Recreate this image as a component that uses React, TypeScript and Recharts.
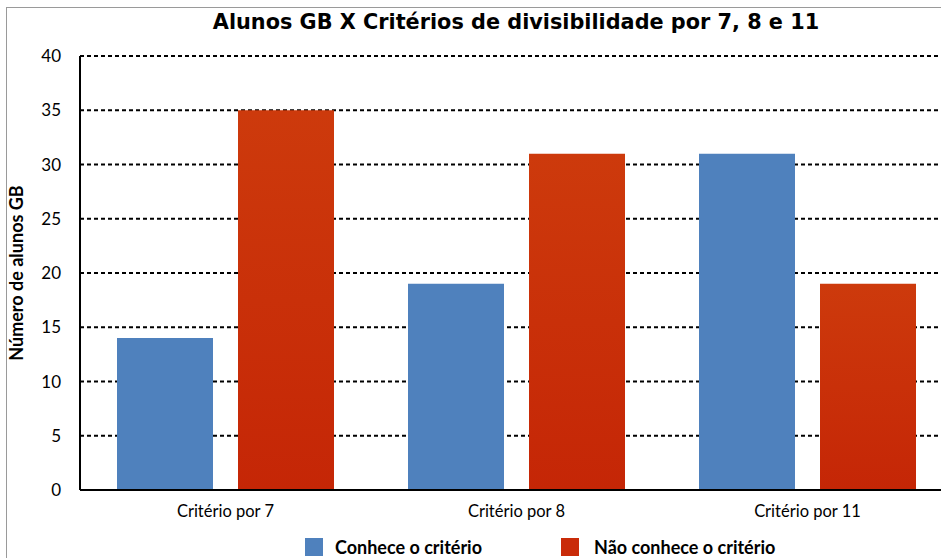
import React from 'react';
import { BarChart, Bar, XAxis, YAxis, CartesianGrid, Label } from 'recharts';

const categories = ['Critério por 7', 'Critério por 8', 'Critério por 11'];
const conhece = [14, 19, 31];
const naoConhece = [35, 31, 19];
const yTicks = [0, 5, 10, 15, 20, 25, 30, 35, 40];
const seriesNames = ['Conhece o critério', 'Não conhece o critério'];
const title = 'Alunos GB X Critérios de divisibilidade por 7, 8 e 11';
const yLabel = 'Número de alunos GB';

const data = categories.map((c, i) => ({ name: c, conhece: conhece[i], nao: naoConhece[i] }));

const BLUE = '#4F81BD';
const RED = '#C92B09';
const FONT = 'Lato, "Open Sans", sans-serif';

export default function App() {
  return (
    <div style={{ position: 'absolute', left: 0, top: 0, width: 941, height: 558, overflow: 'hidden', background: '#fff' }}>
      <div style={{ position: 'absolute', left: 6, top: 7, width: 1000, height: 600, border: '1px solid #9a9a9a', boxSizing: 'border-box' }} />
      <div style={{ position: 'absolute', left: 516, top: 10, transform: 'translateX(-50%)', whiteSpace: 'nowrap', fontFamily: '"DejaVu Sans", Verdana, sans-serif', fontWeight: 'bold', fontSize: 20.8, lineHeight: '25px', color: '#000' }}>
        {title}
      </div>
      <div style={{ position: 'absolute', left: 0, top: 0 }}>
        <BarChart width={960} height={558} data={data} margin={{ top: 56, right: 7, bottom: 38, left: 0 }} barGap={25} barSize={96}>
          <defs>
            <linearGradient id="redGrad" x1="0" y1="0" x2="0" y2="1">
              <stop offset="0%" stopColor="#CD3A0C" />
              <stop offset="100%" stopColor="#C52606" />
            </linearGradient>
          </defs>
          <CartesianGrid vertical={false} stroke="#000" strokeDasharray="4 3" strokeWidth={2} />
          <XAxis dataKey="name" height={30} axisLine={{ stroke: '#000', strokeWidth: 2 }} tickLine={false} tickSize={0} tickMargin={15} tick={{ fill: '#000', fontSize: 16.5, fontFamily: FONT }} interval={0} />
          <YAxis width={80} domain={[0, 40]} ticks={yTicks} axisLine={{ stroke: '#000', strokeWidth: 2 }} tickLine={false} tickSize={0} tickMargin={19} tick={{ fill: '#000', fontSize: 17, fontFamily: FONT }}>
            <Label value={yLabel} angle={-90} position="insideLeft" offset={17} style={{ fontFamily: FONT, fontWeight: 'bold', fontSize: 18, fill: '#000', textAnchor: 'middle' }} />
          </YAxis>
          <Bar dataKey="conhece" name={seriesNames[0]} fill={BLUE} isAnimationActive={false} />
          <Bar dataKey="nao" name={seriesNames[1]} fill="url(#redGrad)" isAnimationActive={false} />
        </BarChart>
      </div>
      <div style={{ position: 'absolute', left: 305, top: 538, display: 'flex', alignItems: 'center', fontFamily: FONT, fontWeight: 'bold', fontSize: 18, color: '#000', whiteSpace: 'nowrap' }}>
        <span style={{ display: 'inline-block', width: 18, height: 18, background: BLUE, marginRight: 12 }} />
        <span style={{ lineHeight: '18px' }}>{seriesNames[0]}</span>
        <span style={{ display: 'inline-block', width: 18, height: 18, background: RED, marginLeft: 79, marginRight: 15 }} />
        <span style={{ lineHeight: '18px' }}>{seriesNames[1]}</span>
      </div>
    </div>
  );
}
